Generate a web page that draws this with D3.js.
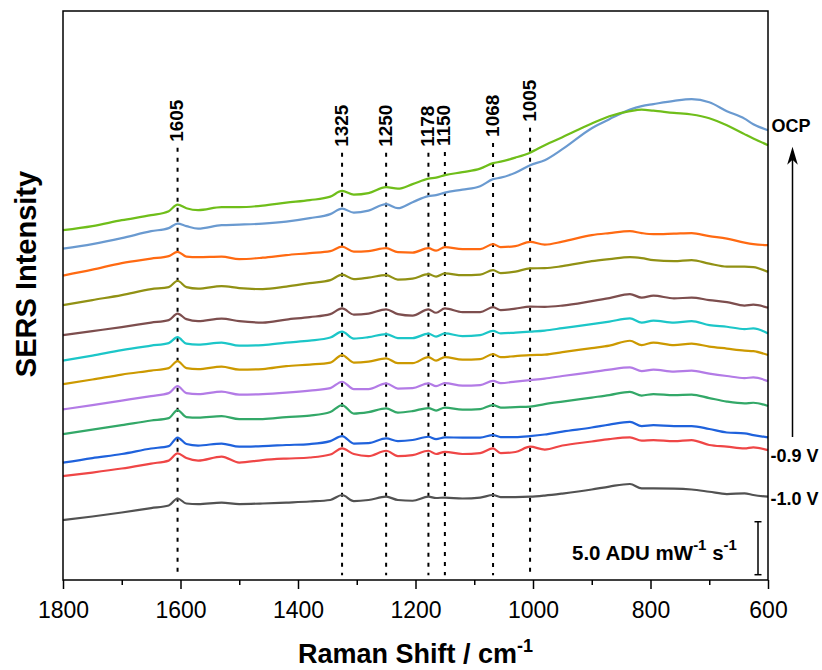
<!DOCTYPE html>
<html><head><meta charset="utf-8">
<script src="https://cdn.jsdelivr.net/npm/d3@7/dist/d3.min.js"></script>
<style>html,body{margin:0;padding:0;background:#fff;} svg{display:block;font-family:"Liberation Sans",Arial,Helvetica,sans-serif;}</style>
</head><body><svg id="chart" width="822" height="670"></svg>
<script>
// ---------------- DATA ----------------
const wavenumbers = [1800,1750,1700,1650,1620,1605,1590,1570,1530,1500,1460,1420,1380,1345,1325,1305,1280,1250,1230,1205,1178,1165,1150,1120,1090,1068,1055,1030,1005,980,950,900,870,835,815,795,760,730,700,670,640,625,600];

// offset SERS intensities (ADU mW^-1 s^-1), bottom to top
const v_m10 = [5.66,5.99,6.37,6.79,7.03,7.69,7.22,7.17,7.31,7.17,7.22,7.31,7.41,7.55,8.02,7.45,7.55,7.86,7.55,7.48,7.86,7.74,7.78,7.69,7.78,8.02,7.83,7.83,7.86,7.97,8.16,8.54,8.82,9.06,8.65,8.65,8.63,8.54,8.33,8.11,8.18,8.02,7.86];
const v_m09 = [9.81,10.14,10.52,10.99,11.27,11.95,11.51,11.27,11.65,11.08,11.32,11.46,11.56,11.84,12.42,11.89,11.70,12.20,11.70,11.79,12.20,11.89,12.10,11.89,11.98,12.42,11.98,12.08,12.58,12.31,12.69,13.07,13.30,13.46,13.16,13.21,13.11,13.21,12.74,12.59,12.42,12.52,12.26];
const v_m08 = [11.07,11.51,11.89,12.41,12.64,13.44,12.83,12.69,12.88,12.59,12.64,12.74,12.83,13.11,13.58,12.88,12.92,13.37,13.11,13.21,13.52,13.30,13.46,13.44,13.44,13.68,13.49,13.49,13.58,13.73,14.01,14.39,14.67,14.93,14.53,14.62,14.53,14.53,14.25,13.92,13.84,13.68,13.46];
const v_m07 = [13.77,14.20,14.62,15.05,15.28,16.04,15.38,15.33,15.47,15.19,15.19,15.38,15.52,15.85,16.51,15.71,15.85,16.20,15.80,15.94,16.23,15.99,16.27,16.08,16.13,16.51,16.27,16.32,16.37,16.60,16.84,17.22,17.45,17.76,17.41,17.55,17.45,17.50,17.17,16.84,16.67,16.73,16.42];
const v_m06 = [16.10,16.51,16.93,17.36,17.64,18.30,17.64,17.55,17.78,17.50,17.55,17.69,17.88,18.11,18.71,18.02,18.02,18.56,18.07,18.11,18.56,18.30,18.58,18.35,18.40,18.80,18.58,18.73,18.87,19.01,19.25,19.62,19.86,20.07,19.72,19.86,19.67,19.76,19.48,19.25,19.06,19.12,18.77];
const v_m05 = [18.49,18.92,19.39,19.76,20.00,20.66,20.00,19.91,20.14,19.86,19.91,20.19,20.33,20.52,21.23,20.52,20.61,20.92,20.47,20.47,21.04,20.71,21.04,20.80,20.85,21.32,21.04,21.13,21.23,21.27,21.51,21.89,22.12,22.58,22.17,22.41,22.17,22.31,22.03,21.84,21.65,21.60,21.23];
const v_m04 = [20.71,21.18,21.70,22.12,22.36,22.92,22.31,22.22,22.41,22.12,22.17,22.41,22.59,22.88,23.44,22.78,22.92,23.21,22.83,22.83,23.25,22.97,23.27,23.02,23.11,23.52,23.27,23.35,23.44,23.54,23.77,24.15,24.39,24.69,24.29,24.48,24.29,24.43,24.06,23.90,23.68,23.75,23.27];
const v_m03 = [23.11,23.49,23.87,24.29,24.53,25.14,24.62,24.43,24.67,24.43,24.29,24.58,24.81,25.09,25.63,25.05,25.14,25.54,25.09,24.95,25.54,25.22,25.63,25.28,25.28,25.75,25.47,25.61,25.80,25.78,25.90,26.32,26.60,26.98,26.65,26.84,26.58,26.65,26.42,26.23,25.90,25.99,25.69];
const v_m02 = [25.94,26.42,26.89,27.45,27.64,28.24,27.64,27.50,27.74,27.55,27.45,27.69,28.02,28.30,28.82,28.40,28.54,28.77,28.35,28.44,28.87,28.63,28.93,28.77,28.82,29.25,28.96,29.10,29.41,29.43,29.62,30.09,30.28,30.47,30.38,30.19,30.09,30.19,29.86,29.58,29.58,29.53,29.08];
const v_m01 = [28.73,29.29,29.91,30.33,30.57,30.97,30.52,30.47,30.52,30.28,30.42,30.66,30.85,31.04,31.46,30.99,31.04,31.32,30.94,30.90,31.32,31.08,31.42,31.23,31.23,31.70,31.42,31.51,31.92,31.65,31.93,32.55,32.74,32.92,32.74,32.64,32.69,32.74,32.45,32.22,31.84,31.70,31.60];
const v_ocp = [31.27,31.70,32.26,32.92,33.21,33.63,33.40,33.16,33.49,33.54,33.63,33.82,34.15,34.53,35.05,34.67,34.86,35.47,35.09,35.66,36.23,36.32,36.56,36.84,37.17,37.83,37.97,38.44,39.15,39.62,40.66,42.64,43.49,44.39,44.72,44.91,45.22,45.38,45.09,44.25,43.54,43.02,42.45];
const v_top = [33.02,33.40,33.96,34.43,34.81,35.42,35.09,34.91,35.19,35.19,35.33,35.61,35.85,36.18,36.72,36.37,36.51,37.08,36.93,37.36,37.88,37.97,38.21,38.49,38.82,39.34,39.48,39.86,40.33,41.04,41.79,43.08,43.77,44.25,44.39,44.29,44.08,43.93,43.58,42.92,42.08,41.67,41.04];

const seriesNames = ["-1.0 V","-0.9 V","-0.8 V","-0.7 V","-0.6 V","-0.5 V","-0.4 V","-0.3 V","-0.2 V","-0.1 V","OCP","OCP'"];
const seriesValues = [v_m10,v_m09,v_m08,v_m07,v_m06,v_m05,v_m04,v_m03,v_m02,v_m01,v_ocp,v_top];
const seriesColors = ["#525252","#ef4646","#1f62dc","#33a868","#b37be6","#cc9900","#1cc6c8","#7d4e4e","#919114","#ff6a12","#6a9ad0","#6fbe1a"];

const xTicks = [1800,1600,1400,1200,1000,800,600];
const xMinorTicks = [1700,1500,1300,1100,900,700];
const peaks = [1605,1325,1250,1178,1150,1068,1005];
const peakLabelLevel = [41.35,40.88,40.88,40.88,40.95,41.82,43.24];
const scaleBarBase = 0.5, scaleBarValue = 5.0;

// ---------------- LAYOUT ----------------
const svg = d3.select("#chart");
const L = 63, R = 768, T = 11, B = 580;
const x = d3.scaleLinear().domain([1800,600]).range([L,R]);
const y = d3.scaleLinear().domain([0,53.7]).range([B,T]);
const font = '"Liberation Sans",Arial,Helvetica,sans-serif';

// peak marker dotted lines
peaks.forEach((p,i)=>{
  svg.append("line")
    .attr("x1",x(p)).attr("x2",x(p))
    .attr("y1",y(peakLabelLevel[i])+6).attr("y2",y(0.45))
    .attr("stroke","#000").attr("stroke-width",2).attr("stroke-dasharray","4,6");
  svg.append("text")
    .attr("transform",`translate(${x(p)+5.5},${y(peakLabelLevel[i])}) rotate(-90)`)
    .attr("text-anchor","start")
    .attr("font-size",19).attr("font-weight","bold").attr("fill","#000")
    .text(p);
});

// spectra
const line = d3.line().x((d,i)=>x(wavenumbers[i])).y(d=>y(d)).curve(d3.curveMonotoneX);
seriesValues.forEach((vals,k)=>{
  svg.append("path").datum(vals)
    .attr("d",line).attr("fill","none")
    .attr("stroke",seriesColors[k]).attr("stroke-width",2.2)
    .attr("stroke-linejoin","round");
});

// frame
svg.append("rect").attr("x",L).attr("y",T).attr("width",R-L).attr("height",B-T)
  .attr("fill","none").attr("stroke","#000").attr("stroke-width",1.5);

// x axis
const gx = svg.append("g").attr("transform",`translate(0,${B})`);
gx.call(d3.axisBottom(x).tickValues(xTicks).tickSize(9).tickFormat(d3.format("d")));
gx.select(".domain").remove();
gx.selectAll(".tick line").attr("stroke","#000").attr("stroke-width",1.5);
gx.selectAll(".tick text").attr("dy",null).attr("y",38)
  .attr("font-size",23).attr("font-family",font).attr("fill","#000");
const gm = svg.append("g").attr("transform",`translate(0,${B})`);
gm.call(d3.axisBottom(x).tickValues(xMinorTicks).tickSize(5).tickFormat(""));
gm.select(".domain").remove();
gm.selectAll(".tick line").attr("stroke","#000").attr("stroke-width",1.5);

// axis titles
const xt = svg.append("text").attr("x",(L+R)/2).attr("y",663)
  .attr("text-anchor","middle").attr("font-size",27).attr("font-weight","bold").attr("fill","#000");
xt.append("tspan").text("Raman Shift / cm");
xt.append("tspan").attr("font-size",18).attr("dy",-11).text("-1");

svg.append("text").attr("transform",`translate(35.5,274) rotate(-90)`)
  .attr("text-anchor","middle").attr("font-size",29).attr("font-weight","bold").attr("fill","#000")
  .text("SERS Intensity");

// right side labels
const lastIdx = wavenumbers.length-1;
svg.append("text").attr("x",771.5).attr("y",y(v_ocp[lastIdx])+1.8)
  .attr("font-size",18).attr("font-weight","bold").text("OCP");
svg.append("text").attr("x",770.5).attr("y",y(v_m09[lastIdx])+12)
  .attr("font-size",18).attr("font-weight","bold").text("-0.9 V");
svg.append("text").attr("x",770.5).attr("y",y(v_m10[lastIdx])+8.3)
  .attr("font-size",18).attr("font-weight","bold").text("-1.0 V");

// arrow
const ax = 792.5, aBottom = y(v_m09[lastIdx])-13, aTip = y(v_ocp[lastIdx])+16.5;
svg.append("line").attr("x1",ax).attr("x2",ax).attr("y1",aBottom).attr("y2",aTip+12)
  .attr("stroke","#000").attr("stroke-width",1.5);
svg.append("path")
  .attr("d",`M${ax},${aTip} L${ax+5.3},${aTip+18} L${ax},${aTip+13} L${ax-5.3},${aTip+18} Z`)
  .attr("fill","#000");

// scale bar
const sbx = R-10;
const sbTop = y(scaleBarBase+scaleBarValue), sbBot = y(scaleBarBase);
svg.append("line").attr("x1",sbx).attr("x2",sbx).attr("y1",sbTop).attr("y2",sbBot).attr("stroke","#000").attr("stroke-width",1.5);
[sbTop,sbBot].forEach(yy=>svg.append("line").attr("x1",sbx-3.5).attr("x2",sbx+3.5).attr("y1",yy).attr("y2",yy).attr("stroke","#000").attr("stroke-width",1.5));
const st = svg.append("text").attr("x",572).attr("y",560).attr("font-size",20.5).attr("font-weight","bold").attr("fill","#000");
st.append("tspan").text(scaleBarValue.toFixed(1)+" ADU mW");
st.append("tspan").attr("font-size",15).attr("dy",-10).text("-1");
st.append("tspan").attr("dy",10).text(" s");
st.append("tspan").attr("font-size",15).attr("dy",-10).text("-1");
</script></body></html>
